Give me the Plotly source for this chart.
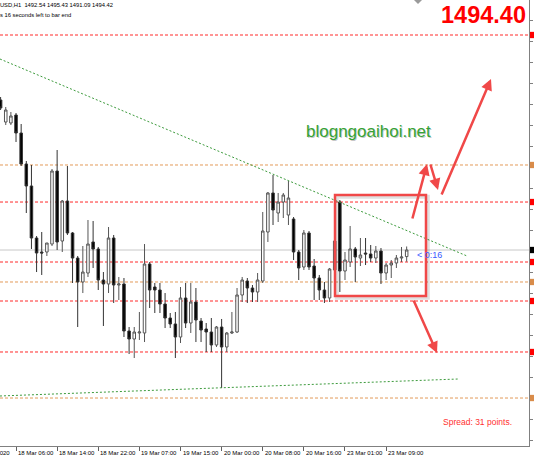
import plotly.graph_objects as go

# ---- data (XAUUSD H1) ----
bar_index = list(range(80))
open_ = [1537.28, 1530.99, 1530.71, 1532.99, 1527.85, 1518.99, 1512.71, 1497.85, 1493.85, 1493.85,
         1496.13, 1516.99, 1496.99, 1508.42, 1499.28, 1492.13, 1485.28, 1487.85, 1496.71, 1494.71,
         1485.85, 1484.71, 1497.85, 1484.42, 1484.71, 1471.28, 1468.99, 1470.71, 1470.71, 1490.42,
         1483.85, 1482.99, 1478.99, 1474.99, 1473.28, 1469.56, 1480.71, 1473.56, 1479.56, 1474.13,
         1471.85, 1470.99, 1467.28, 1472.42, 1466.71, 1470.71, 1470.99, 1481.56, 1485.56, 1483.56,
         1482.42, 1485.56, 1499.56, 1510.71, 1504.99, 1508.13, 1504.42, 1503.28, 1493.85, 1489.56,
         1499.28, 1489.85, 1486.42, 1482.99, 1480.71, 1488.71, 1508.13, 1488.42, 1490.99, 1494.71,
         1492.13, 1493.56, 1493.28, 1492.13, 1494.13, 1487.85, 1490.13, 1490.71, 1492.13, 1492.54]
high = [1538.13, 1535.28, 1533.85, 1533.56, 1530.42, 1519.85, 1518.71, 1498.42, 1499.56, 1496.42,
        1517.56, 1522.99, 1508.71, 1518.42, 1499.56, 1492.71, 1495.56, 1502.99, 1502.71, 1495.28,
        1488.13, 1500.99, 1498.71, 1486.71, 1486.42, 1472.42, 1472.42, 1476.71, 1496.13, 1490.99,
        1484.99, 1484.99, 1482.13, 1476.42, 1476.71, 1483.85, 1484.99, 1484.99, 1483.56, 1474.99,
        1473.56, 1474.99, 1472.71, 1474.71, 1470.99, 1476.71, 1483.56, 1486.71, 1486.42, 1484.42,
        1487.85, 1505.28, 1510.99, 1515.85, 1510.71, 1510.71, 1514.13, 1503.85, 1494.42, 1500.13,
        1499.85, 1491.85, 1487.28, 1485.28, 1489.28, 1497.56, 1508.71, 1493.85, 1501.28, 1495.28,
        1497.85, 1497.85, 1495.85, 1495.56, 1494.99, 1490.71, 1491.56, 1492.99, 1495.28, 1495.43]
low = [1534.42, 1530.13, 1530.13, 1525.28, 1518.42, 1504.99, 1494.71, 1488.13, 1487.28, 1492.71,
       1495.56, 1494.42, 1493.85, 1498.71, 1484.99, 1472.42, 1482.13, 1486.71, 1489.28, 1482.99,
       1472.71, 1482.13, 1479.28, 1480.13, 1469.56, 1464.71, 1463.56, 1468.71, 1468.13, 1477.85,
       1476.42, 1476.42, 1472.13, 1472.13, 1463.56, 1467.85, 1472.13, 1470.71, 1468.13, 1468.13,
       1465.28, 1465.28, 1466.71, 1454.99, 1465.28, 1470.42, 1470.71, 1479.56, 1479.28, 1479.56,
       1479.56, 1484.99, 1496.71, 1501.56, 1502.42, 1503.56, 1501.56, 1491.56, 1485.85, 1488.71,
       1488.71, 1480.13, 1480.13, 1479.28, 1479.56, 1482.99, 1482.42, 1485.85, 1489.56, 1485.28,
       1489.85, 1490.13, 1490.99, 1490.71, 1484.71, 1485.85, 1486.42, 1489.28, 1490.99, 1491.09]
close = [1534.99, 1534.42, 1532.71, 1527.85, 1518.99, 1512.71, 1497.85, 1493.56, 1493.56, 1496.42,
         1516.99, 1496.71, 1508.42, 1499.28, 1492.13, 1485.28, 1488.13, 1496.13, 1494.71, 1485.85,
         1484.71, 1497.85, 1484.42, 1484.71, 1471.28, 1468.99, 1470.99, 1470.99, 1490.42, 1482.99,
         1482.99, 1478.99, 1474.99, 1473.28, 1469.56, 1480.71, 1473.56, 1479.56, 1474.42, 1471.56,
         1470.99, 1467.28, 1472.42, 1466.71, 1470.71, 1470.99, 1481.56, 1485.85, 1483.56, 1482.42,
         1485.85, 1499.85, 1510.71, 1505.85, 1508.13, 1510.13, 1509.28, 1493.85, 1489.28, 1499.28,
         1489.56, 1486.42, 1482.99, 1480.71, 1488.99, 1496.99, 1488.42, 1491.56, 1494.71, 1492.42,
         1492.99, 1493.28, 1492.13, 1494.13, 1487.85, 1490.13, 1490.71, 1492.13, 1492.42, 1494.42]

tick_index = [3, 11, 19, 27, 35, 43, 51, 59, 67, 75]
tick_labels = ["18 Mar 06:00", "18 Mar 14:00", "18 Mar 22:00", "19 Mar 07:00", "19 Mar 15:00",
               "20 Mar 00:00", "20 Mar 08:00", "20 Mar 16:00", "23 Mar 01:00", "23 Mar 09:00"]

red_levels = [1555.85, 1508.13, 1490.99, 1479.85, 1465.28]
orange_levels = [1518.71, 1485.28, 1452.13]
current_price = 1494.42

upper_trend_x = [-0.12, 90.74]
upper_trend_y = [1548.99, 1492.71]
lower_trend_x = [-0.12, 89.0]
lower_trend_y = [1452.71, 1457.56]

box_x = [65.06, 82.76]
box_y = [1481.28, 1510.13]

# arrows: (tail_x, tail_y, head_x, head_y)
arrow_tail_x = [80.04, 83.54, 85.68, 80.23]
arrow_tail_y = [1502.99, 1519.28, 1509.85, 1480.42]
arrow_head_x = [82.96, 85.10, 95.41, 84.90]
arrow_head_y = [1518.99, 1511.56, 1543.28, 1464.99]

x_range = [-0.117, 102.8]
y_range = [1438.42, 1565.85]

W, H = 534, 462
ML, MR, MT, MB = 0, 5, 0, 16
PW = W - ML - MR
PH = H - MT - MB

RED = "#ff2a2a"
ORANGE = "#e39a5a"
GREEN = "#3d9b3d"
SMALL_FONT = "Liberation Sans, Arial, sans-serif"


def px_x(p):
    return p / PW


def px_y(p):
    return 1 - p / PH


fig = go.Figure()

fig.add_trace(go.Candlestick(
    x=bar_index, open=open_, high=high, low=low, close=close,
    increasing=dict(line=dict(color="#555555", width=1), fillcolor="#ffffff"),
    decreasing=dict(line=dict(color="#333333", width=1), fillcolor="#000000"),
    whiskerwidth=0, showlegend=False, hoverinfo="skip",
))

# trend lines
fig.add_trace(go.Scatter(x=upper_trend_x, y=upper_trend_y, mode="lines",
                         line=dict(color=GREEN, width=1, dash="2px,2px"),
                         showlegend=False, hoverinfo="skip"))
fig.add_trace(go.Scatter(x=lower_trend_x, y=lower_trend_y, mode="lines",
                         line=dict(color=GREEN, width=1, dash="2px,2px"),
                         showlegend=False, hoverinfo="skip"))

shapes = []
# current price line
shapes.append(dict(type="line", xref="paper", yref="y", x0=0, x1=1, y0=current_price, y1=current_price,
                   line=dict(color="#c8c8c8", width=1), layer="below"))
for lv in red_levels:
    shapes.append(dict(type="line", xref="paper", yref="y", x0=0, x1=1, y0=lv, y1=lv,
                       line=dict(color=RED, width=1, dash="3px,2px"), layer="below"))
for lv in orange_levels:
    shapes.append(dict(type="line", xref="paper", yref="y", x0=0, x1=1, y0=lv, y1=lv,
                       line=dict(color=ORANGE, width=1, dash="3px,2px"), layer="below"))

# right-edge level markers
mh = 0.9
for lv in red_levels:
    shapes.append(dict(type="rect", xref="paper", yref="y", x0=px_x(530), x1=px_x(535),
                       y0=lv - mh, y1=lv + mh, line=dict(width=0), fillcolor="#ff0000"))
for lv in orange_levels:
    shapes.append(dict(type="rect", xref="paper", yref="y", x0=px_x(530), x1=px_x(535),
                       y0=lv - mh, y1=lv + mh, line=dict(width=0), fillcolor="#d98c4a"))
shapes.append(dict(type="rect", xref="paper", yref="y", x0=px_x(530), x1=px_x(535),
                   y0=current_price - mh, y1=current_price + mh, line=dict(width=0), fillcolor="#000000"))

# rectangle with soft shadow
shapes.append(dict(type="rect", xref="x", yref="y", x0=box_x[0] + 0.35, x1=box_x[1] + 0.35,
                   y0=box_y[0] - 0.5, y1=box_y[1] - 0.5,
                   line=dict(color="rgba(0,0,0,0.12)", width=4)))
shapes.append(dict(type="rect", xref="x", yref="y", x0=box_x[0], x1=box_x[1], y0=box_y[0], y1=box_y[1],
                   line=dict(color="#f04848", width=2.5)))

# small shift marker at top
shapes.append(dict(type="path", xref="paper", yref="paper",
                   path=f"M {px_x(414)} {px_y(0)} L {px_x(422)} {px_y(0)} L {px_x(418)} {px_y(4)} Z",
                   fillcolor="#9a9a9a", line=dict(width=0)))

annotations = []
for tx, ty, hx, hy in zip(arrow_tail_x, arrow_tail_y, arrow_head_x, arrow_head_y):
    annotations.append(dict(x=hx, y=hy, ax=tx, ay=ty, xref="x", yref="y", axref="x", ayref="y",
                            text="", showarrow=True, arrowhead=2, arrowsize=0.9, arrowwidth=2.5,
                            arrowcolor="#f04848"))

for ti, tl in zip(tick_index, tick_labels):
    annotations.append(dict(x=ti, y=0, xref="x", yref="paper", text=tl, showarrow=False,
                            xanchor="left", yanchor="top", xshift=0, yshift=-2,
                            font=dict(family=SMALL_FONT, size=6, color="#000000")))
annotations.append(dict(x=px_x(12), y=0, xref="paper", yref="paper", text="17 Mar 2020",
                        showarrow=False, xanchor="right", yanchor="top", yshift=-2,
                        font=dict(family=SMALL_FONT, size=6, color="#000000")))

annotations.append(dict(x=px_x(115), y=px_y(5), xref="paper", yref="paper",
                        text="XAUUSD,H1  1492.54 1495.43 1491.09 1494.42", showarrow=False,
                        xanchor="right", yanchor="middle",
                        font=dict(family=SMALL_FONT, size=5.8, color="#000000")))
annotations.append(dict(x=px_x(73), y=px_y(15), xref="paper", yref="paper",
                        text="Time remains 16 seconds left to bar end", showarrow=False,
                        xanchor="right", yanchor="middle",
                        font=dict(family=SMALL_FONT, size=5.8, color="#000000")))
annotations.append(dict(x=px_x(528), y=px_y(15), xref="paper", yref="paper",
                        text="<b>1494.40</b>", showarrow=False, xanchor="right", yanchor="middle",
                        font=dict(family="Liberation Sans, Arial", size=23.5, color="#ff0000")))
annotations.append(dict(x=px_x(368), y=px_y(131), xref="paper", yref="paper",
                        text="blogngoaihoi.net", showarrow=False, xanchor="center", yanchor="middle",
                        xshift=1.5, yshift=-1.5,
                        font=dict(family="Liberation Sans, Arial", size=17, color="rgba(0,0,0,0.22)")))
annotations.append(dict(x=px_x(368), y=px_y(131), xref="paper", yref="paper",
                        text="blogngoaihoi.net", showarrow=False, xanchor="center", yanchor="middle",
                        font=dict(family="Liberation Sans, Arial", size=17, color="#35a335")))
annotations.append(dict(x=px_x(415), y=px_y(255), xref="paper", yref="paper",
                        text="&lt; 0:16", showarrow=False, xanchor="left", yanchor="middle",
                        font=dict(family=SMALL_FONT, size=9, color="#3a5aff")))
annotations.append(dict(x=px_x(441), y=px_y(422), xref="paper", yref="paper",
                        text="Spread: 31 points.", showarrow=False, xanchor="left", yanchor="middle",
                        font=dict(family=SMALL_FONT, size=8.5, color="#ff3030")))

fig.update_layout(
    width=W, height=H,
    margin=dict(l=ML, r=MR, t=MT, b=MB),
    paper_bgcolor="#ffffff", plot_bgcolor="#ffffff",
    shapes=shapes, annotations=annotations,
    showlegend=False,
    xaxis=dict(range=x_range, rangeslider=dict(visible=False), showgrid=False, zeroline=False,
               showline=True, linecolor="#808080", linewidth=1,
               tickmode="array", tickvals=tick_index, ticktext=[""] * len(tick_index),
               ticks="outside", ticklen=4, tickcolor="#606060", showticklabels=False, fixedrange=True),
    yaxis=dict(range=y_range, side="right", showgrid=False, zeroline=False,
               showline=True, linecolor="#808080", linewidth=1,
               ticks="outside", ticklen=3, tickcolor="#808080", dtick=6, tick0=1440,
               showticklabels=False, fixedrange=True),
)

fig.write_html("out.html", config={"displayModeBar": False},
               post_script="document.body.style.margin='0px';document.body.style.padding='0px';")
